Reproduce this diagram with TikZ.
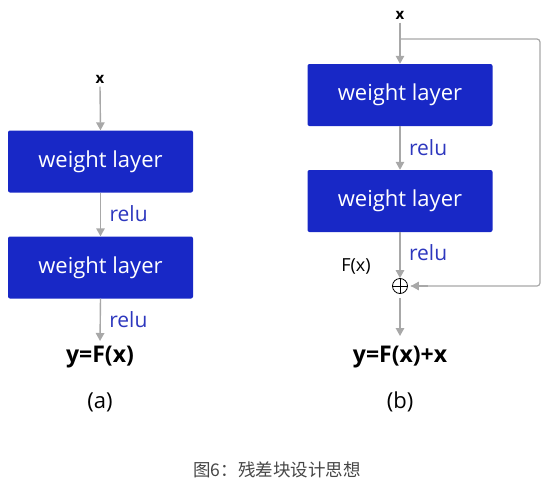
\documentclass[tikz,border=0pt]{standalone}
\usepackage{fontspec}
\setmainfont{Open Sans}
\newfontfamily\cjk{Noto Sans CJK SC}
\usetikzlibrary{arrows.meta}
\definecolor{boxblue}{RGB}{24,40,198}
\definecolor{relublue}{RGB}{45,55,190}
\definecolor{arrgray}{RGB}{168,168,168}
\definecolor{capgray}{RGB}{70,70,70}
\tikzset{
  wbox/.style={fill=boxblue,draw=none,rounded corners=2pt,minimum width=185pt,minimum height=62pt,text=white,font=\fontsize{22}{24}\selectfont},
  flow/.style={draw=arrgray,line width=1.4pt,-{Triangle[width=8.5pt,length=8pt]}},
  skip/.style={draw=arrgray,line width=1.2pt,rounded corners=3pt},
  relul/.style={text=relublue,font=\fontsize{21}{23}\selectfont,anchor=west},
  lbl/.style={font=\fontsize{15}{17}\selectfont\bfseries},
  eq/.style={font=\fontsize{23}{25}\selectfont\bfseries},
  sub/.style={font=\fontsize{22}{24}\selectfont}
}
\begin{document}
\begin{tikzpicture}[x=1pt,y=-1pt]
\useasboundingbox (0,0) rectangle (555,485);
% ---------- (a) ----------
\node[lbl] (ax) at (100,79) {x};
\node[wbox] (a1) at (100.5,161.5) {weight layer};
\node[wbox] (a2) at (100.5,267.5) {weight layer};
\coordinate (aend) at (100,341);
\node[eq] (ay) at (100,357) {y=F(x)};
\node[sub] (acap) at (100,402) {(a)};
\draw[flow] (ax.south) -- (a1.north);
\draw[flow] (a1.south) -- (a2.north) node[relul,pos=0.48,xshift=5pt] {relu};
\draw[flow] (a2.south) -- (aend) node[relul,pos=0.5,xshift=5pt] {relu};
% ---------- (b) ----------
\node[lbl] (bx) at (400,15) {x};
\node[wbox] (b1) at (400,95) {weight layer};
\node[wbox] (b2) at (400,201) {weight layer};
\node[circle,draw=black,line width=0.8pt,inner sep=0pt,minimum size=15pt] (sum) at (400,286) {};
\draw[line width=0.8pt] (sum.north) -- (sum.south) (sum.west) -- (sum.east);
\coordinate (bend) at (400,336);
\coordinate (br) at (400,39);
\coordinate (bc1) at (540,39);
\coordinate (bc2) at (540,286);
\node[eq] (by) at (400,357) {y=F(x)+x};
\node[sub] (bcap) at (400,402) {(b)};
\node[font=\fontsize{18}{20}\selectfont] (fx) at (356,266) {F(x)};
\draw[flow] (bx.south) -- (b1.north);
\draw[flow] (b1.south) -- (b2.north) node[relul,pos=0.48,xshift=5pt] {relu};
\draw[flow] (b2.south) -- (sum.north) node[relul,pos=0.45,xshift=5pt] {relu};
\draw[flow] (sum.south) ++(0,4) -- (bend);
\draw[skip] (br) -- (bc1) -- (bc2) -- ([xshift=3pt]sum.east);
\draw[flow,rounded corners=0] ([xshift=20pt]sum.east) -- ([xshift=3pt]sum.east);
% caption
\node[text=capgray,font=\cjk\fontsize{17.5}{19}\selectfont] (cap) at (277,470) {图6：残差块设计思想};
\end{tikzpicture}
\end{document}
